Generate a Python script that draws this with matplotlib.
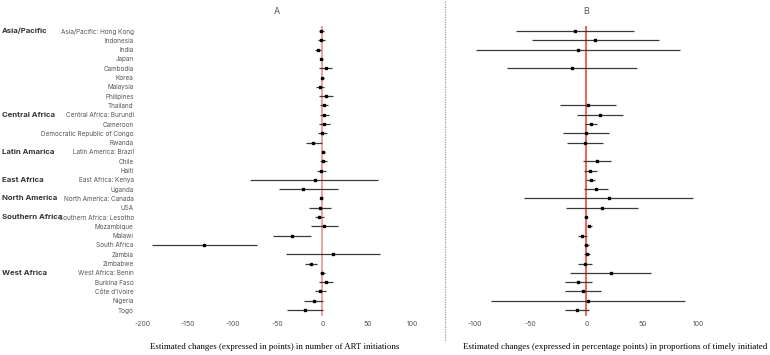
import numpy as np
import matplotlib.pyplot as plt
from matplotlib.lines import Line2D
from matplotlib.transforms import blended_transform_factory

# country rows, top to bottom
countries = ["Asia/Pacific: Hong Kong", "Indonesia", "India", "Japan", "Cambodia", "Korea",
             "Malaysia", "Philipines", "Thailand", "Central Africa: Burundi", "Cameroon",
             "Democratic Republic of Congo", "Rwanda", "Latin America: Brazil", "Chile", "Haiti",
             "East Africa: Kenya", "Uganda", "North America: Canada", "USA",
             "Southern Africa: Lesotho", "Mozambique", "Malawi", "South Africa", "Zambia",
             "Zimbabwe", "West Africa: Benin", "Burkina Faso", "Côte d'Ivoire", "Nigeria", "Togo"]
regions = ["Asia/Pacific", "Central Africa", "Latin Amarica", "East Africa",
           "North America", "Southern Africa", "West Africa"]
region_rows = [1, 10, 14, 17, 19, 21, 27]

# panel A: change in number of ART initiations (estimate, lower, upper)
a_est = [-1.5, -1, -4.5, -1, 3.7, -0.4, -2.6, 4.4, 1.8, 1.5, 2.2, -0.4, -10, 0.7, 1.1, -1.5,
         -8, -21.5, -1, -3, -3.3, 2.2, -33.7, -131, 11.9, -13, -0.4, 4, -2.2, -9.3, -19.6]
a_lo = [-4, -5, -8.5, -2.5, -4, -2, -6.7, -3.7, -2.6, -2.6, -3.3, -4.8, -18, -0.7, -2.2, -6.3,
        -80, -48, -3, -14.8, -8, -12.6, -54.4, -189, -40.4, -19.6, -2.6, -3.7, -8, -20, -39.6]
a_hi = [2, 3, -1, 1, 11, 2, 2.2, 12.2, 6, 7, 8.9, 5.2, -0.7, 2.6, 4.8, 4,
        62, 17, 1, 10, 1.5, 17, -12.6, -73, 64, -5.9, 2.6, 11.5, 3.7, 1, 0.4]

# panel B: change in proportion of timely initiated (percentage points)
nan = np.nan
b_est = [-10, 8, -7.4, nan, -12.8, nan, nan, nan, 1.2, 12.2, 3.9, -0.6, -1.2, nan, 9.2, 3.3,
         4.2, 8.6, 20, 14, -0.6, 2.4, -3.6, -0.3, 0.3, -1.5, 21.7, -7.4, -3, 1.2, -8.6]
b_lo = [-62.8, -48.5, -98.8, nan, -71, nan, nan, nan, -23.5, -8, -0.9, -20.5, -17.3, nan, -3.3, -2.4,
        -0.6, -2, -55.4, -18, -1.8, 0.3, -7.4, -2.4, -2.4, -7.7, -14.6, -19, -19, -85, -19]
b_hi = [42.3, 64.6, 84, nan, 45.5, nan, nan, nan, 26.2, 32.4, 9.2, 20.2, 14.9, nan, 21.7, 9.5,
        7.7, 19.3, 95, 45.8, 0.9, 5, 0.3, 2.1, 3, 5.4, 57.7, 5, 13, 88, 2.1]

rows = np.arange(1, len(countries) + 1)
W, H = 770, 355
fig = plt.figure(figsize=(W / 100, H / 100), dpi=100)

lab_font = ["Inter", "DejaVu Sans"]
top_px, bot_px = 26.4, 315.6
ay = (H - bot_px) / H
ah = (bot_px - top_px) / H

axA = fig.add_axes([137.8 / W, ay, 279 / W, ah])
axB = fig.add_axes([457.5 / W, ay, 257.6 / W, ah])


def forest(ax, est, lo, hi, xlim, ticks, title, vcolor):
    est, lo, hi = np.array(est), np.array(lo), np.array(hi)
    ok = ~np.isnan(est)
    ax.hlines(rows[ok], lo[ok], hi[ok], color="#3a3a3a", lw=0.9)
    ax.plot(est[ok], rows[ok], "s", color="black", ms=1.9)
    ax.axvline(0, color=vcolor, lw=1.1, zorder=0)
    ax.set_xlim(*xlim)
    ax.set_ylim(len(rows) + 0.6, 0.5)
    ax.set_xticks(ticks)
    ax.set_xticklabels([str(t) for t in ticks], family=lab_font, fontsize=5, color="#555555")
    ax.tick_params(length=0, pad=4)
    for s in ax.spines.values():
        s.set_visible(False)
    ax.set_title(title, family=lab_font, fontsize=6.5, color="#555555", pad=9)


forest(axA, a_est, a_lo, a_hi, (-205, 105), [-200, -150, -100, -50, 0, 50, 100], "A", "#e8868c")
forest(axB, b_est, b_lo, b_hi, (-115, 115), [-100, -50, 0, 50, 100], "B", "#e8392f")

axA.set_yticks(rows)
axA.set_yticklabels(countries, family=lab_font, fontsize=4.6, color="#555555")
axA.tick_params(axis="y", pad=3)
axB.set_yticks([])

trans = blended_transform_factory(fig.transFigure, axA.transData)
for name, r in zip(regions, region_rows):
    fig.text(2 / W, r, name, transform=trans, family=lab_font, fontsize=5.6,
             fontweight="bold", color="#333333", va="center", ha="left")

fig.text(275 / W, (H - 347) / H, "Estimated changes (expressed in points) in number of ART initiations",
         family="Liberation Serif", fontsize=6.4, ha="center", va="center")
fig.text(615 / W, (H - 347) / H,
         "Estimated changes (expressed in percentage points) in proportions of timely initiated",
         family="Liberation Serif", fontsize=6.4, ha="center", va="center")

fig.add_artist(Line2D([445 / W, 445 / W], [(H - 340) / H, 1], transform=fig.transFigure,
                      color="#999999", lw=0.9, ls=(0, (1, 1))))

fig.savefig("out.png", dpi=100)
